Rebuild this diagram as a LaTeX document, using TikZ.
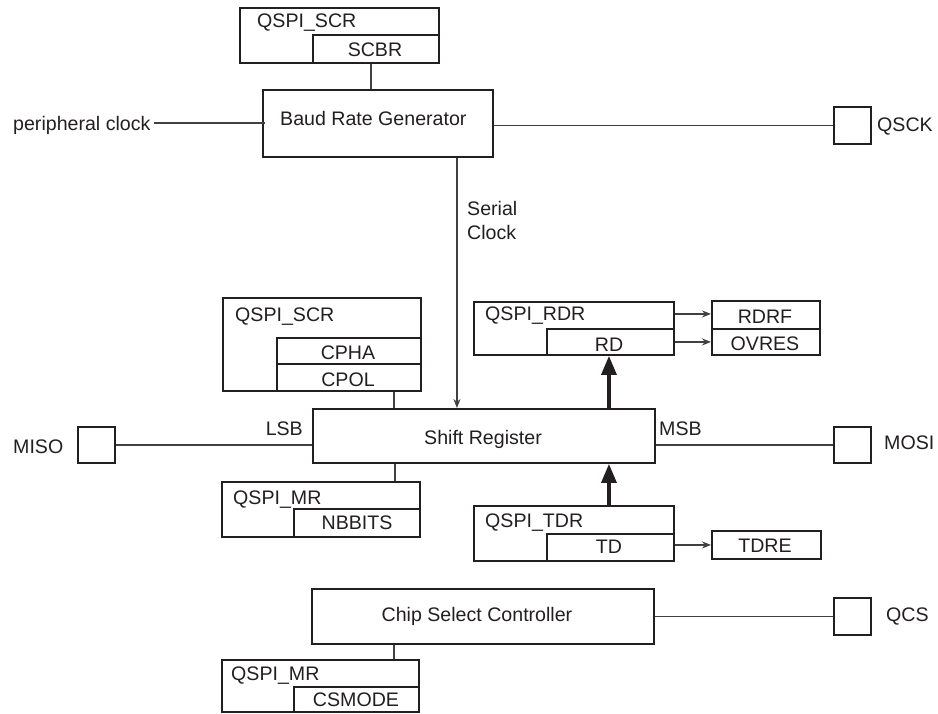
\documentclass[tikz,border=0pt]{standalone}
\usepackage{fontspec}
\setmainfont{Liberation Sans}
\usetikzlibrary{arrows.meta}
\definecolor{ink}{HTML}{231F20}
\definecolor{wirec}{HTML}{404040}
\begin{document}
\begin{tikzpicture}[x=1pt,y=-1pt,
  font=\fontsize{19.6}{23}\selectfont,
  box/.style={draw=ink, line width=1.9pt, anchor=north west, inner sep=0pt, fill=white},
  txt/.style={text=ink, inner sep=0pt, text height=14.1pt, text depth=0pt},
  wire/.style={draw=wirec, line width=1.1pt},
  sarrow/.style={draw=wirec, line width=1.1pt, -{Stealth[length=9pt,width=7pt]}},
  bus/.style={draw=ink, line width=3.4pt, -{Triangle[length=19pt,width=15pt]}}]
\useasboundingbox (0,0) rectangle (938,713);

% top register and baud rate generator
\node[box, minimum width=199pt, minimum height=55pt] (scr1) at (239,7) {};
\node[box, minimum width=126pt, minimum height=28pt] (scbr) at (312,34) {};
\node[txt, anchor=west] (scr1t) at (257,20) {QSPI\_SCR};
\node[txt] (scbrt) at (375,49) {SCBR};
\node[box, minimum width=230pt, minimum height=67pt] (baud) at (262,89) {};
\node[txt, anchor=west] (baudt) at (280,118) {Baud Rate Generator};
\node[txt, anchor=west] (pclk) at (13,123) {peripheral clock};
\node[box, minimum width=37pt, minimum height=37pt] (qsck) at (833,106) {};
\node[txt, anchor=west] (qsckt) at (877,124) {QSCK};
\node[txt, anchor=west] (ser1) at (467,208) {Serial};
\node[txt, anchor=west] (ser2) at (467,232) {Clock};

% shift register area
\node[box, minimum width=198pt, minimum height=93pt] (scr2) at (222,297) {};
\node[box, minimum width=144pt, minimum height=26pt] (cpha) at (276,337) {};
\node[box, minimum width=144pt, minimum height=27pt] (cpol) at (276,363) {};
\node[txt, anchor=west] (scr2t) at (235,314) {QSPI\_SCR};
\node[txt] (cphat) at (348,352) {CPHA};
\node[txt] (cpolt) at (348,379) {CPOL};

\node[box, minimum width=342pt, minimum height=54pt] (shift) at (312,408) {};
\node[txt] (shiftt) at (483,437) {Shift Register};
\node[txt, anchor=east] (lsb) at (303,428) {LSB};
\node[txt, anchor=west] (msb) at (659,428) {MSB};
\node[box, minimum width=37pt, minimum height=36pt] (misob) at (77,426) {};
\node[txt, anchor=west] (misot) at (13,446) {MISO};
\node[box, minimum width=37pt, minimum height=36pt] (mosib) at (833,426) {};
\node[txt, anchor=west] (mosit) at (884,442) {MOSI};

\node[box, minimum width=198pt, minimum height=55pt] (mr1) at (221,481) {};
\node[box, minimum width=126pt, minimum height=28pt] (nbbits) at (293,508) {};
\node[txt, anchor=west] (mr1t) at (233,497) {QSPI\_MR};
\node[txt] (nbbitst) at (357,522) {NBBITS};

\node[box, minimum width=200pt, minimum height=53pt] (rdr) at (473,301) {};
\node[box, minimum width=127pt, minimum height=26pt] (rd) at (546,328) {};
\node[txt, anchor=west] (rdrt) at (485,313) {QSPI\_RDR};
\node[txt] (rdt) at (609,344) {RD};
\node[box, minimum width=108pt, minimum height=28pt] (rdrf) at (711,300) {};
\node[box, minimum width=108pt, minimum height=26pt] (ovres) at (711,328) {};
\node[txt] (rdrft) at (765,316) {RDRF};
\node[txt] (ovrest) at (765,343) {OVRES};

\node[box, minimum width=200pt, minimum height=55pt] (tdr) at (473,505) {};
\node[box, minimum width=127pt, minimum height=27pt] (td) at (546,533) {};
\node[txt, anchor=west] (tdrt) at (485,520) {QSPI\_TDR};
\node[txt] (tdt) at (609,546) {TD};
\node[box, minimum width=109pt, minimum height=28pt] (tdre) at (711,530) {};
\node[txt] (tdret) at (765,545) {TDRE};

% chip select
\node[box, minimum width=342pt, minimum height=55pt] (csc) at (311,588) {};
\node[txt] (csct) at (477,614) {Chip Select Controller};
\node[box, minimum width=37pt, minimum height=37pt] (qcs) at (833,597) {};
\node[txt, anchor=west] (qcst) at (886,614) {QCS};
\node[box, minimum width=197pt, minimum height=52pt] (mr2) at (221,659) {};
\node[box, minimum width=125pt, minimum height=25pt] (csmode) at (293,686) {};
\node[txt, anchor=west] (mr2t) at (231,673) {QSPI\_MR};
\node[txt] (csmodet) at (356,699) {CSMODE};

% connectors
\draw[wire] ([xshift=-5pt]scbr.south) -- ([xshift=-5pt]scbr.south |- baud.north);
\draw[wire] ([xshift=3pt]pclk.east) -- ([xshift=3pt]pclk.east -| baud.west);
\draw[wire] (qsck.west) -- (qsck.west -| baud.east);
\draw[sarrow] ([xshift=79pt]baud.south) -- ([xshift=79pt]baud.south |- shift.north);
\draw[wire] ([xshift=45pt]cpol.south) -- ([xshift=45pt]cpol.south |- shift.north);
\draw[wire] ([xshift=-89pt]shift.south) -- ([xshift=-89pt]shift.south |- mr1.north);
\draw[wire] (misob.east) -- (misob.east -| shift.west);
\draw[wire] (mosib.west) -- (mosib.west -| shift.east);
\draw[bus] ([xshift=-1.5pt]rd.south |- shift.north) -- ([xshift=-1.5pt]rd.south);
\draw[bus] ([xshift=-1.5pt]td.north |- tdr.north) -- ([xshift=-1.5pt]td.north |- shift.south);
\draw[sarrow] ([yshift=1pt]rdrf.west -| rdr.east) -- ([yshift=1pt]rdrf.west);
\draw[sarrow] (ovres.west -| rd.east) -- (ovres.west);
\draw[sarrow] (tdre.west -| td.east) -- (tdre.west);
\draw[wire] (qcs.west) -- (qcs.west -| csc.east);
\draw[wire] ([xshift=-89pt]csc.south) -- ([xshift=-89pt]csc.south |- mr2.north);
\end{tikzpicture}
\end{document}
